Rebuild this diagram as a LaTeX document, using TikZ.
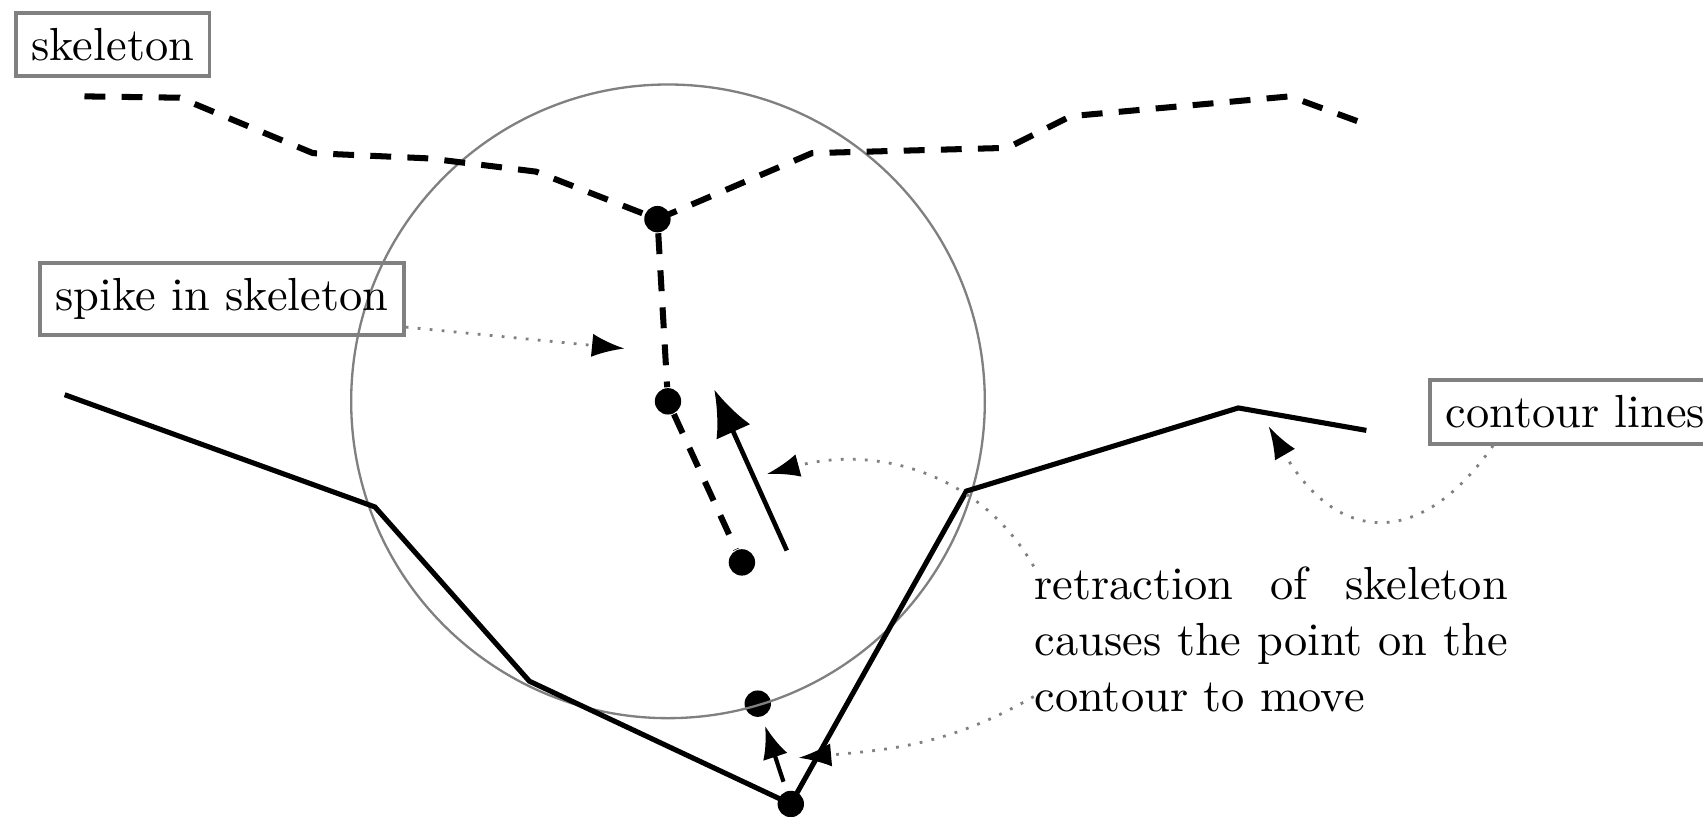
\documentclass[tikz,border=0pt]{standalone}
\usetikzlibrary{arrows.meta}
\begin{document}
\begin{tikzpicture}[
  skel/.style={dash pattern=on 4.5pt off 3.5pt, line width=1.3pt},
  cont/.style={line width=1.1pt, line join=miter},
  dot/.style={circle, fill, inner sep=0pt, minimum size=0.2cm},
  lbl/.style={draw=gray, thick, anchor=west},
  moved/.style={line width=0.9pt, -{Latex[length=7pt,width=5.5pt]}},
  ptr/.style={gray, dotted, line width=0.6pt, -{Latex[length=7pt,width=5pt,color=black]}}
]
\useasboundingbox (0,0) rectangle (12.9,-6.187);

% Points
\node[dot] (J) at (4.98,-1.66) {};
\node[dot] (C) at (5.06,-3.04) {};
\node[dot] (L) at (5.62,-4.26) {};
\node[dot] (P) at (5.74,-5.33) {};
\node[dot] (B) at (5.99,-6.09) {};

% Circle
\draw[gray, line width=0.5pt] (C.center) circle (2.40);

% Skeleton
\draw[skel] (0.64,-0.73) -- (1.36,-0.74) -- (2.37,-1.16) -- (3.25,-1.20) -- (4.06,-1.30) -- (J.center);
\draw[skel] (J.center) -- (6.15,-1.16) -- (7.63,-1.12) -- (8.11,-0.88) -- (9.77,-0.73) -- (10.37,-0.95);
\draw[skel] (J) -- (C);
\draw[skel] (C) -- (L);

% Contour
\draw[cont] (0.49,-2.99) -- (2.84,-3.84) -- (4.01,-5.16) -- (B.center) -- (7.32,-3.72) -- (9.38,-3.09) -- (10.35,-3.26);

% Movement
\coordinate (rtail) at (5.96,-4.17);
\coordinate (rhead) at (5.41,-2.95);
\draw[line width=1pt, -{Latex[length=10pt,width=8pt]}] (rtail) -- (rhead);
\draw[moved, shorten <=2pt, shorten >=2pt] (B) -- (P);

% Labels
\node[lbl] (skeleton) at (0.107,-0.337) {skeleton};
\node[lbl] (spike) at (0.288,-2.267) {spike in skeleton};
\node[lbl] (contour) at (10.82,-3.12) {contour lines};
\node[text width=102pt, align=justify, inner sep=0pt, anchor=north west] (retract) at (7.83,-4.29)
  {retraction of skeleton causes the point on the contour to move};

% Pointers
\coordinate (spiketip) at (4.73,-2.64);
\coordinate (retracttip) at (5.81,-3.59);
\coordinate (movetip) at (6.05,-5.74);
\coordinate (contourtip) at (9.61,-3.23);
\draw[ptr] ([yshift=-6pt]spike.east) -- (spiketip);
\draw[ptr] (retract.north west) to[out=120, in=15] (retracttip);
\draw[ptr] ([yshift=3.5pt]retract.south west) to[out=210, in=5] (movetip);
\draw[ptr] ([xshift=0.49cm]contour.south west) to[out=235, in=-60, looseness=1.5] (contourtip);

\end{tikzpicture}
\end{document}
